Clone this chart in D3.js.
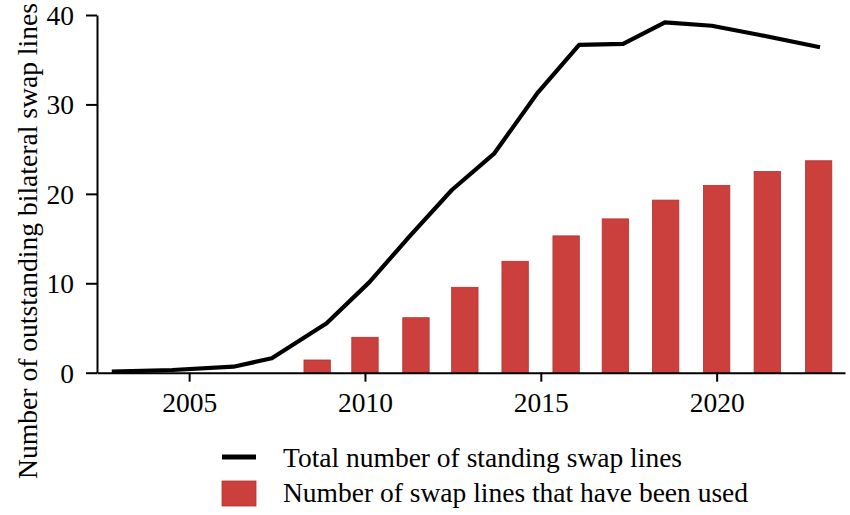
<!DOCTYPE html>
<html>
<head>
<meta charset="utf-8">
<script src="https://cdn.jsdelivr.net/npm/d3@7"></script>
<style>
  html, body { margin: 0; padding: 0; background: #fff; }
  svg { display: block; }
  text { font-family: "Liberation Serif", "Times New Roman", serif; fill: #000; }
</style>
</head>
<body>
<svg id="chart" width="850" height="515"></svg>
<script>
// ---- data ----
const lineYears  = [2002.80, 2004.52, 2006.26, 2007.35, 2008.91, 2010.12, 2011.28, 2012.47, 2013.68, 2014.89, 2016.09, 2017.34, 2018.53, 2019.86, 2021.23, 2022.94];
const lineValues = [0.13, 0.3, 0.67, 1.61, 5.52, 10.1, 15.3, 20.43, 24.53, 31.2, 36.65, 36.76, 39.18, 38.8, 37.76, 36.39];
const barYears   = [2008.64, 2010.0, 2011.45, 2012.84, 2014.27, 2015.72, 2017.12, 2018.55, 2020.0, 2021.44, 2022.90];
const barValues  = [1.42, 3.96, 6.15, 9.55, 12.46, 15.3, 17.2, 19.3, 20.95, 22.5, 23.7];
const xTicks = [2005, 2010, 2015, 2020];
const yTicks = [0, 10, 20, 30, 40];
const yTitle = "Number of outstanding bilateral swap lines";
const legendLabels = ["Total number of standing swap lines", "Number of swap lines that have been used"];

// ---- layout ----
const svg = d3.select("#chart");
const x = d3.scaleLinear().domain([2002.38, 2023.65]).range([97, 845]);
const y = d3.scaleLinear().domain([0, 40]).range([372.7, 15]);
const barW = x(2000.75) - x(2000);
const barFill = "#cb403d", barStroke = "#b5302d";
const fs = 27.5;

// bars
svg.append("g").selectAll("rect").data(barValues).join("rect")
  .attr("x", (d, i) => x(barYears[i]) - barW / 2)
  .attr("width", barW)
  .attr("y", d => y(d))
  .attr("height", d => y(0) - y(d))
  .attr("fill", barFill)
  .attr("stroke", barStroke)
  .attr("stroke-width", 0.8);

// line
const pts = lineYears.map((yr, i) => [yr, lineValues[i]]);
svg.append("path").datum(pts)
  .attr("fill", "none")
  .attr("stroke", "#000")
  .attr("stroke-width", 4.2)
  .attr("stroke-linejoin", "round")
  .attr("d", d3.line().x(d => x(d[0])).y(d => y(d[1])));

// y axis
const yAxis = svg.append("g").attr("transform", "translate(97,0)")
  .call(d3.axisLeft(y).tickValues(yTicks).tickSize(11).tickPadding(12).tickSizeOuter(0));
yAxis.select(".domain").attr("stroke-width", 2);
yAxis.selectAll(".tick line").attr("stroke-width", 2);
yAxis.selectAll("text").attr("font-size", fs).attr("font-family", "Liberation Serif").attr("fill", "#000").attr("dy", "0.34em");

// x axis
const xAxis = svg.append("g").attr("transform", `translate(0,${y(0)})`)
  .call(d3.axisBottom(x).tickValues(xTicks).tickFormat(d3.format("d")).tickSize(9).tickPadding(11).tickSizeOuter(0));
xAxis.select(".domain").attr("stroke-width", 2);
xAxis.selectAll(".tick line").attr("stroke-width", 2);
xAxis.selectAll("text").attr("font-size", fs).attr("font-family", "Liberation Serif").attr("fill", "#000");

// y title
svg.append("text")
  .attr("transform", "translate(37,241) rotate(-90)")
  .attr("text-anchor", "middle")
  .attr("font-size", 27.6)
  .text(yTitle);

// legend
const lg = svg.append("g");
lg.append("line").attr("x1", 222).attr("x2", 256).attr("y1", 457).attr("y2", 457)
  .attr("stroke", "#000").attr("stroke-width", 5);
lg.append("text").attr("x", 283).attr("y", 467).attr("font-size", fs).text(legendLabels[0]);
lg.append("rect").attr("x", 222).attr("y", 481).attr("width", 34).attr("height", 25)
  .attr("fill", barFill).attr("stroke", barStroke).attr("stroke-width", 0.8);
lg.append("text").attr("x", 283).attr("y", 502).attr("font-size", fs).text(legendLabels[1]);
</script>
</body>
</html>
